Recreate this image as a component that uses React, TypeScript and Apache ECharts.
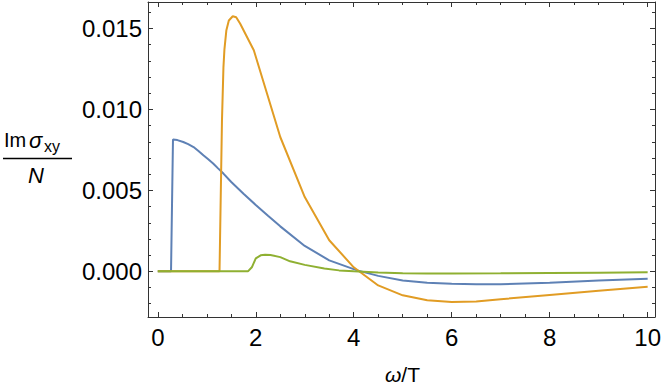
import React, { useEffect, useRef } from "react";
import * as echarts from "echarts";

const blueX = [0, 0.27, 0.31, 0.4, 0.52, 0.62, 0.73, 0.83, 0.93, 1.03, 1.13, 1.23, 1.34, 1.5, 1.75, 2.0, 2.25, 2.5, 3.0, 3.5, 4.07, 4.5, 5.0, 5.5, 6.0, 6.5, 7.0, 8.0, 9.0, 10.0];
const blueY = [0, 0, 0.00814, 0.00811, 0.00799, 0.00786, 0.00768, 0.00744, 0.00717, 0.00692, 0.00666, 0.00636, 0.00604, 0.00552, 0.0048, 0.0041, 0.00343, 0.00278, 0.00157, 0.00068, 0.00006, -0.00028, -0.00056, -0.0007, -0.00077, -0.0008, -0.0008, -0.0007, -0.00057, -0.00045];

const orangeX = [0, 1.26, 1.31, 1.34, 1.36, 1.4, 1.45, 1.53, 1.6, 1.68, 1.8, 1.96, 2.5, 3.0, 3.5, 4.0, 4.5, 5.0, 5.5, 6.0, 6.5, 7.0, 8.0, 9.0, 10.0];
const orangeY = [0, 0, 0.0093, 0.0126, 0.0137, 0.0149, 0.0155, 0.01576, 0.0157, 0.01531, 0.0146, 0.01366, 0.0083, 0.00459, 0.00192, 0.00025, -0.00087, -0.00148, -0.00179, -0.0019, -0.00186, -0.00172, -0.00146, -0.0012, -0.00095];

const greenX = [0, 1.84, 1.92, 2.0, 2.1, 2.19, 2.3, 2.5, 2.7, 3.0, 3.4, 3.7, 4.0, 4.5, 5.0, 5.5, 6.0, 7.0, 8.0, 9.0, 10.0];
const greenY = [0, 0, 0.00025, 0.0008, 0.00099, 0.00103, 0.00101, 0.00088, 0.00062, 0.0004, 0.00017, 0.00006, 0.00001, -0.00007, -0.00011, -0.00013, -0.00013, -0.00012, -0.0001, -0.00008, -0.00006];

const xMajor = [0, 2, 4, 6, 8, 10];
const xMinor = [0.5, 1, 1.5, 2.5, 3, 3.5, 4.5, 5, 5.5, 6.5, 7, 7.5, 8.5, 9, 9.5];
const yMajor = [0, 0.005, 0.01, 0.015];
const yMinor = [-0.002, -0.001, 0.001, 0.002, 0.003, 0.004, 0.006, 0.007, 0.008, 0.009, 0.011, 0.012, 0.013, 0.014, 0.016];

const X_MIN = -0.2;
const X_MAX = 10.15;
const Y_MIN = -0.00282;
const Y_MAX = 0.01664;

const FRAME = "#333333";
const FONT = "Liberation Sans";

function pairs(xs: number[], ys: number[]) {
  return xs.map((x, i) => [x, ys[i]]);
}

export default function App() {
  const ref = useRef<HTMLDivElement>(null);
  useEffect(() => {
    if (!ref.current) return;
    const chart = echarts.init(ref.current, undefined, { renderer: "svg" });

    const mkX = (pos: "top" | "bottom", ticks: number[], len: number, labels: boolean, line: boolean) => ({
      type: "value",
      position: pos,
      min: X_MIN,
      max: X_MAX,
      axisLine: { show: line, onZero: false, lineStyle: { color: FRAME, width: 1 } },
      axisTick: { show: true, inside: true, length: len, customValues: ticks, lineStyle: { color: FRAME, width: 1 } },
      axisLabel: labels
        ? { show: true, customValues: ticks, margin: 8, color: "#000", fontFamily: FONT, fontSize: 24, formatter: (v: number) => String(v) }
        : { show: false },
      splitLine: { show: false },
    });
    const mkY = (pos: "left" | "right", ticks: number[], len: number, labels: boolean, line: boolean) => ({
      type: "value",
      position: pos,
      min: Y_MIN,
      max: Y_MAX,
      axisLine: { show: line, onZero: false, lineStyle: { color: FRAME, width: 1 } },
      axisTick: { show: true, inside: true, length: len, customValues: ticks, lineStyle: { color: FRAME, width: 1 } },
      axisLabel: labels
        ? { show: true, customValues: ticks, margin: 6, color: "#000", fontFamily: FONT, fontSize: 24, formatter: (v: number) => v.toFixed(3) }
        : { show: false },
      splitLine: { show: false },
    });

    chart.setOption({
      animation: false,
      backgroundColor: "#fff",
      grid: { left: 148, right: 8, top: 2, bottom: 73, containLabel: false },
      xAxis: [
        mkX("bottom", xMajor, 5, true, true),
        mkX("bottom", xMinor, 3, false, false),
        mkX("top", xMajor, 5, false, true),
        mkX("top", xMinor, 3, false, false),
      ],
      yAxis: [
        mkY("left", yMajor, 5, true, true),
        mkY("left", yMinor, 3, false, false),
        mkY("right", yMajor, 5, false, true),
        mkY("right", yMinor, 3, false, false),
      ],
      series: [
        { type: "line", data: pairs(blueX, blueY), showSymbol: false, lineStyle: { color: "#5E81B5", width: 2 }, itemStyle: { color: "#5E81B5" } },
        { type: "line", data: pairs(orangeX, orangeY), showSymbol: false, lineStyle: { color: "#E19C24", width: 2 }, itemStyle: { color: "#E19C24" } },
        { type: "line", data: pairs(greenX, greenY), showSymbol: false, lineStyle: { color: "#8FB032", width: 2 }, itemStyle: { color: "#8FB032" } },
      ],
      graphic: [
        { type: "text", left: 4, top: 130, style: { text: "Im", fontFamily: FONT, fontSize: 20, fill: "#000" } },
        { type: "text", left: 29, top: 129, style: { text: "σ", fontFamily: FONT, fontStyle: "italic", fontSize: 22, fill: "#000" } },
        { type: "text", left: 44, top: 138, style: { text: "xy", fontFamily: FONT, fontSize: 16, fill: "#000" } },
        { type: "line", shape: { x1: 3, y1: 158.5, x2: 72, y2: 158.5 }, style: { stroke: "#000", lineWidth: 1.6 } },
        { type: "text", left: 28, top: 164, style: { text: "N", fontFamily: FONT, fontStyle: "italic", fontSize: 22, fill: "#000" } },
        {
          type: "text",
          left: 385,
          top: 364,
          style: {
            text: "{i|ω}/T",
            fontFamily: FONT,
            fontSize: 21,
            fill: "#000",
            rich: { i: { fontFamily: FONT, fontStyle: "italic", fontSize: 21, fill: "#000" } },
          },
        },
      ],
    });
    return () => chart.dispose();
  }, []);
  return <div ref={ref} style={{ width: 664, height: 390, position: "absolute", left: 0, top: 0 }} />;
}
